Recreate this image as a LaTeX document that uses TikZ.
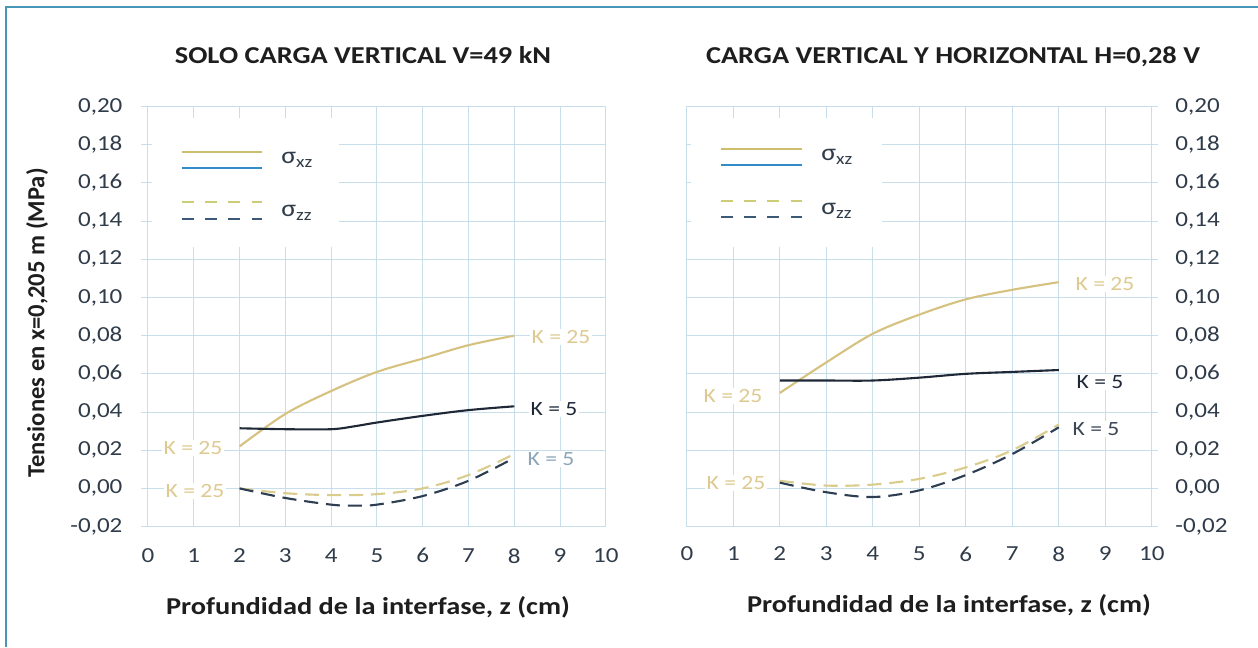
\documentclass[tikz,border=0pt]{standalone}
\usepackage{fontspec}
\setmainfont{Carlito}[FakeStretch=1.17]
\newfontfamily\plainfont{Carlito}
\definecolor{borderc}{RGB}{70,150,185}
\definecolor{gridc}{RGB}{200,222,235}
\definecolor{tickc}{RGB}{48,60,74}
\definecolor{titlec}{RGB}{30,30,30}
\definecolor{goldline}{RGB}{214,194,128}
\definecolor{goldlab}{RGB}{222,202,145}
\definecolor{goldlegend}{RGB}{205,190,110}
\definecolor{golddash}{RGB}{218,204,140}
\definecolor{golddashleg}{RGB}{205,205,120}
\definecolor{darkline}{RGB}{30,40,55}
\definecolor{darkdash}{RGB}{45,62,82}
\definecolor{bluelegend}{RGB}{50,140,200}
\definecolor{bluedashleg}{RGB}{60,90,120}
\definecolor{palelab}{RGB}{140,165,185}
\definecolor{midlab}{RGB}{60,70,85}
\tikzset{
  gridl/.style={draw=gridc, line width=0.6pt},
  ticklab/.style={font=\fontsize{12.2}{14}\selectfont, text=tickc, inner sep=0pt},
  klab/.style={font=\fontsize{11.5}{13}\selectfont, fill=white, inner sep=1pt},
  charttitle/.style={font=\bfseries\fontsize{13.8}{16}\selectfont, text=titlec, inner sep=0pt},
  curve/.style={line width=1.2pt, smooth, tension=0.55},
  dashcurve/.style={line width=1.2pt, dash pattern=on 8pt off 4.5pt},
  legline/.style={line width=1.4pt},
  legdash/.style={line width=1.4pt, dash pattern=on 6.8pt off 6.4pt},
  siglab/.style={anchor=west, inner sep=0pt, text=tickc}
}
\begin{document}
\begin{tikzpicture}[x=0.02cm,y=-0.02cm]
\useasboundingbox (0,0) rectangle (1258,647);
\fill[white] (0,0) rectangle (1258,647);
\coordinate (bl) at (6,647);
\coordinate (tl) at (6,7);
\coordinate (tr) at (1258,7);
\draw[borderc, line width=1.2pt] (bl) -- (tl) -- (tr);

% ---------------- left chart ----------------
\begin{scope}[xshift=2.96cm, yshift=-9.77cm, x=0.916cm, y=38.2cm]
  \foreach \z in {0,...,10} \draw[gridl] (\z,-0.02) -- (\z,0.20);
  \foreach \v in {-0.02,0,0.02,0.04,0.06,0.08,0.10,0.12,0.14,0.16,0.18,0.20}
    \draw[gridl] (-0.15,\v) -- (10,\v);
  \fill[white] (0.08,0.1264) rectangle (4.17,0.194);
  \foreach \v/\t in {-0.02/{-0,02},0/{0,00},0.02/{0,02},0.04/{0,04},0.06/{0,06},0.08/{0,08},0.10/{0,10},0.12/{0,12},0.14/{0,14},0.16/{0,16},0.18/{0,18},0.20/{0,20}}
    \node[ticklab, anchor=east] at (-0.55,\v) {\t};
  \foreach \z in {0,...,10}
    \node[ticklab] at (\z,-0.0353) {\z};
  \draw[goldline, curve] plot coordinates {(2,0.022) (3,0.039) (4,0.051) (5,0.061) (6,0.068) (7,0.075) (8,0.080)};
  \draw[darkline, curve] plot coordinates {(2,0.0315) (3,0.031) (4,0.031) (4.5,0.0325) (5,0.0345) (6,0.038) (7,0.041) (8,0.043)};
  \draw[golddash, dashcurve] plot[smooth, tension=0.55] coordinates {(2,0.0) (3,-0.0025) (4,-0.0035) (5,-0.003) (6,0.0) (7,0.007) (8,0.018)};
  \draw[darkdash, dashcurve] plot[smooth, tension=0.55] coordinates {(2,0.0) (3,-0.005) (4,-0.0085) (4.5,-0.009) (5,-0.0085) (6,-0.004) (7,0.004) (8,0.016)};
\end{scope}

% ---------------- right chart ----------------
\begin{scope}[xshift=13.74cm, yshift=-9.77cm, x=0.93cm, y=38.2cm]
  \foreach \z in {0,...,10} \draw[gridl] (\z,-0.02) -- (\z,0.20);
  \foreach \v in {-0.02,0,0.02,0.04,0.06,0.08,0.10,0.12,0.14,0.16,0.18,0.20}
    \draw[gridl] (0,\v) -- (10.13,\v);
  \fill[white] (0.08,0.1264) rectangle (4.2,0.194);
  \foreach \v/\t in {-0.02/{-0,02},0/{0,00},0.02/{0,02},0.04/{0,04},0.06/{0,06},0.08/{0,08},0.10/{0,10},0.12/{0,12},0.14/{0,14},0.16/{0,16},0.18/{0,18},0.20/{0,20}}
    \node[ticklab, anchor=west] at (10.5,\v) {\t};
  \foreach \z in {0,...,10}
    \node[ticklab] at (\z,-0.0343) {\z};
  \draw[goldline, curve] plot coordinates {(2,0.050) (3,0.066) (4,0.081) (5,0.091) (6,0.099) (7,0.104) (8,0.108)};
  \draw[darkline, curve] plot coordinates {(2,0.0565) (3,0.0565) (4,0.0565) (5,0.058) (6,0.060) (7,0.061) (8,0.062)};
  \draw[golddash, dashcurve] plot[smooth, tension=0.55] coordinates {(2,0.004) (3,0.0015) (4,0.002) (5,0.005) (6,0.011) (7,0.020) (8,0.0335)};
  \draw[darkdash, dashcurve] plot[smooth, tension=0.55] coordinates {(2,0.003) (3,-0.002) (4,-0.0045) (5,-0.001) (6,0.007) (7,0.018) (8,0.032)};
\end{scope}

% ---------------- titles ----------------
\node[charttitle] (tleft) at (363,55) {SOLO CARGA VERTICAL V=49 kN};
\node[charttitle] (tright) at (953,57) {CARGA VERTICAL Y HORIZONTAL H=0,28 V};
\node[charttitle] (xleft) at (368,607) {Profundidad de la interfase, z (cm)};
\node[charttitle] (xright) at (949,605) {Profundidad de la interfase, z (cm)};
\node[rotate=90, inner sep=0pt, text=titlec, font=\plainfont\bfseries\fontsize{14}{16}\selectfont] (ytitle) at (37,323) {Tensiones en x=0,205 m (MPa)};

% ---------------- legends ----------------
\coordinate (la1) at (182,152); \coordinate (lb1) at (262,152);
\coordinate (la2) at (182,168); \coordinate (lb2) at (262,168);
\coordinate (la3) at (182,202); \coordinate (lb3) at (262,202);
\coordinate (la4) at (182,219); \coordinate (lb4) at (262,219);
\draw[goldlegend, legline] (la1) -- (lb1);
\draw[bluelegend, legline] (la2) -- (lb2);
\draw[golddashleg, legdash] (la3) -- (lb3);
\draw[bluedashleg, legdash] (la4) -- (lb4);
\node[siglab] (sxzl) at (281,160) {\fontsize{13.5}{15}\selectfont σ\raisebox{-0.4ex}{\fontsize{9.5}{10}\selectfont xz}};
\node[siglab] (szzl) at (281,213) {\fontsize{13.5}{15}\selectfont σ\raisebox{-0.4ex}{\fontsize{9.5}{10}\selectfont zz}};

\coordinate (ra1) at (721,149); \coordinate (rb1) at (802,149);
\coordinate (ra2) at (721,165); \coordinate (rb2) at (802,165);
\coordinate (ra3) at (721,201); \coordinate (rb3) at (802,201);
\coordinate (ra4) at (721,217); \coordinate (rb4) at (802,217);
\draw[goldlegend, legline] (ra1) -- (rb1);
\draw[bluelegend, legline] (ra2) -- (rb2);
\draw[golddashleg, legdash] (ra3) -- (rb3);
\draw[bluedashleg, legdash] (ra4) -- (rb4);
\node[siglab] (sxzr) at (821,157) {\fontsize{13.5}{15}\selectfont σ\raisebox{-0.4ex}{\fontsize{9.5}{10}\selectfont xz}};
\node[siglab] (szzr) at (821,211) {\fontsize{13.5}{15}\selectfont σ\raisebox{-0.4ex}{\fontsize{9.5}{10}\selectfont zz}};

% ---------------- K labels ----------------
\node[klab, text=goldlab] (k1) at (561,337) {K = 25};
\node[klab, text=darkline] (k2) at (554,409) {K = 5};
\node[klab, text=goldlab] (k3) at (193,448) {K = 25};
\node[klab, text=palelab] (k4) at (551,459) {K = 5};
\node[klab, text=goldlab] (k5) at (195,491) {K = 25};

\node[klab, text=goldlab] (k6) at (1105,284) {K = 25};
\node[klab, text=darkline] (k7) at (1100,382) {K = 5};
\node[klab, text=goldlab] (k8) at (733,396) {K = 25};
\node[klab, text=midlab] (k9) at (1096,429) {K = 5};
\node[klab, text=goldlab] (k10) at (736,483) {K = 25};
\end{tikzpicture}
\end{document}
